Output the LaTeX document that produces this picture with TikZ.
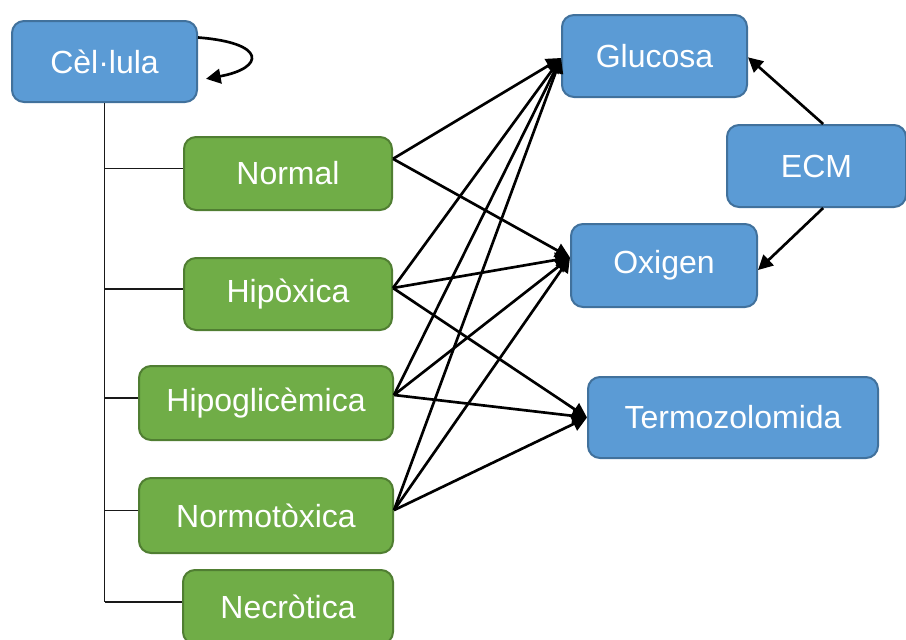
\documentclass[tikz,border=0pt]{standalone}
\usepackage{fontspec}
\setmainfont{Liberation Sans}
\usetikzlibrary{arrows.meta}
\definecolor{boxblue}{HTML}{5B9BD5}
\definecolor{blueedge}{HTML}{41719C}
\definecolor{boxgreen}{HTML}{70AD47}
\definecolor{greenedge}{HTML}{507E32}
\begin{document}
\begin{tikzpicture}[x=0.75pt,y=-0.75pt,
  box/.style={rounded corners=9pt, line width=1.5pt, text=white,
    font=\fontsize{24}{28}\selectfont, inner sep=0pt, anchor=center},
  bluebox/.style={box, fill=boxblue, draw=blueedge},
  greenbox/.style={box, fill=boxgreen, draw=greenedge},
  link/.style={line width=2pt, -{Triangle[length=11pt,width=11pt]}},
  branch/.style={line width=0.8pt, draw=black!90}]
\useasboundingbox (0,0) rectangle (906,639);

% cell states (green) and the cell itself
\node[bluebox,  minimum width=138.75pt, minimum height=60.75pt] (cell)   at (104.5,61.5) {Cèl·lula};
\node[greenbox, minimum width=156pt,    minimum height=54.75pt] (normal) at (288,173.5)  {Normal};
\node[greenbox, minimum width=156pt,    minimum height=54pt]    (hipox)  at (288,294)    {Hipòxica};
\node[greenbox, minimum width=190.5pt,  minimum height=55.5pt]  (hipogl) at (266,403)    {Hipoglicèmica};
\node[greenbox, minimum width=190.5pt,  minimum height=56.25pt] (normot) at (266,515.5)  {Normotòxica};
\node[greenbox, minimum width=157.5pt,  minimum height=55.5pt]  (necro)  at (288,607)    {Necròtica};

% environment
\node[bluebox, minimum width=138.75pt, minimum height=61.5pt]  (glucosa) at (654.5,56)   {Glucosa};
\node[bluebox, minimum width=139.5pt,  minimum height=62.25pt] (oxigen)  at (664,265.5)  {Oxigen};
\node[bluebox, minimum width=134.25pt, minimum height=61.5pt]  (ecm)     at (816.5,166)  {ECM};
\node[bluebox, minimum width=217.5pt,  minimum height=60.75pt] (termo)   at (733,417.5)  {Termozolomida};

% state tree
\draw[branch] (cell.south) -- ([yshift=3.75pt]necro.west -| cell.south);
\foreach \s in {normal,hipox,hipogl,normot,necro}
  \draw[branch] ([yshift=3.75pt]\s.west) -- ([yshift=3.75pt]\s.west -| cell.south);

% self loop
\draw[link] ([yshift=18pt]cell.east) .. controls +(52pt,-4pt) and +(44pt,8pt) .. ([xshift=6pt,yshift=-13pt]cell.east);

% state -> environment
\coordinate (gIn) at ([yshift=-1.5pt]glucosa.west);
\coordinate (oIn) at ([yshift=6pt]oxigen.west);
\coordinate (tIn) at (termo.west);
\coordinate (nOut) at ([yshift=11pt]normal.east);
\coordinate (hOut) at ([yshift=4.5pt]hipox.east);
\coordinate (gOut) at ([yshift=6pt]hipogl.east);
\coordinate (mOut) at ([yshift=4pt]normot.east);

\draw[link] (nOut) -- (gIn);
\draw[link] (nOut) -- (oIn);
\foreach \src in {hOut,gOut,mOut} {
  \draw[link] (\src) -- (gIn);
  \draw[link] (\src) -- (oIn);
  \draw[link] (\src) -- (tIn);
}

% ECM feeds glucose and oxygen
\draw[link] ([xshift=5pt]ecm.north) -- ([yshift=-1pt]glucosa.east);
\draw[link] ([xshift=5pt]ecm.south) -- ([yshift=-3.4pt]oxigen.east);
\end{tikzpicture}
\end{document}
